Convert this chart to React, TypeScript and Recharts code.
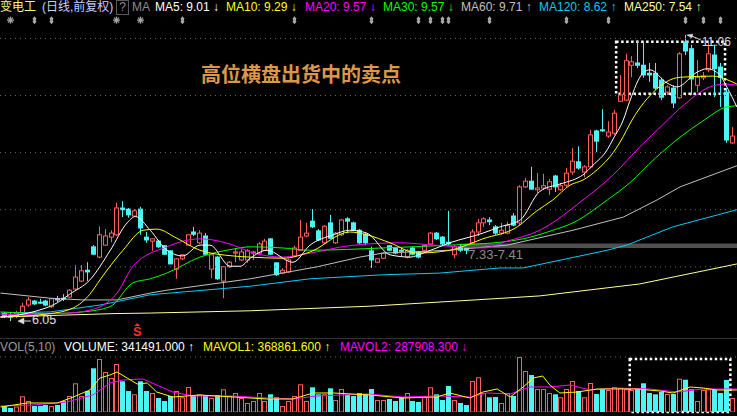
import React from 'react';
import {
  ComposedChart,
  Bar,
  Line,
  XAxis,
  YAxis,
  ReferenceLine,
  ReferenceArea,
  ReferenceDot,
} from 'recharts';

// ---------- candle data (124 daily candles) ----------
const OPEN = [
  6.18, 6.14, 6.14, 6.19, 6.33, 6.40, 6.38, 6.40, 6.30, 6.44,
  6.45, 6.47, 6.61, 6.75, 6.94, 7.35, 7.17, 7.38, 7.52, 7.56,
  8.03, 8.01, 7.89, 8.01, 7.52, 7.45, 7.45, 7.37, 7.28, 6.96,
  7.14, 7.38, 7.61, 7.42, 7.54, 6.96, 7.17, 6.75, 7.00, 7.24,
  7.12, 7.12, 7.24, 7.24, 7.29, 7.49, 7.07, 6.89, 6.91, 7.19,
  7.29, 7.54, 7.80, 7.63, 7.42, 7.77, 7.42, 7.56, 7.84, 7.77,
  7.64, 7.57, 7.28, 7.08, 7.15, 7.37, 7.33, 7.29, 7.17, 7.33,
  7.26, 7.29, 7.40, 7.59, 7.52, 7.43, 7.21, 7.35, 7.33, 7.42,
  7.61, 7.77, 7.82, 7.70, 7.59, 7.59, 7.89, 7.77, 8.40, 8.50,
  8.35, 8.38, 8.36, 8.59, 8.35, 8.43, 8.66, 8.84, 8.66, 8.75,
  9.38, 9.40, 9.29, 9.34, 9.90, 9.92, 10.53, 10.57, 10.53, 10.39,
  10.39, 10.27, 10.06, 10.13, 9.96, 10.94, 10.82, 10.18, 10.31, 10.45,
  10.71, 10.50, 10.06, 9.17,
];
const CLOSE = [
  6.14, 6.12, 6.19, 6.31, 6.42, 6.35, 6.37, 6.33, 6.44, 6.42,
  6.44, 6.59, 6.82, 6.93, 6.91, 7.22, 7.56, 7.54, 7.59, 8.03,
  8.00, 7.91, 7.98, 7.68, 7.47, 7.49, 7.35, 7.22, 7.05, 7.14,
  7.21, 7.56, 7.57, 7.59, 7.22, 7.21, 6.79, 7.00, 7.08, 7.26,
  7.26, 7.28, 7.26, 7.40, 7.45, 7.22, 6.86, 6.94, 7.12, 7.33,
  7.52, 7.59, 7.70, 7.47, 7.71, 7.50, 7.59, 7.82, 7.80, 7.64,
  7.42, 7.42, 7.12, 7.14, 7.24, 7.29, 7.24, 7.28, 7.29, 7.22,
  7.17, 7.37, 7.59, 7.49, 7.40, 7.40, 7.35, 7.29, 7.29, 7.61,
  7.77, 7.84, 7.79, 7.59, 7.64, 7.73, 7.73, 8.40, 8.50, 8.36,
  8.38, 8.42, 8.49, 8.40, 8.42, 8.64, 8.85, 8.73, 8.75, 9.31,
  9.20, 9.38, 9.36, 9.69, 10.01, 10.61, 10.59, 10.53, 10.36, 10.36,
  10.13, 9.97, 10.15, 9.87, 10.73, 10.78, 10.29, 10.32, 10.34, 10.73,
  10.47, 10.32, 9.22, 9.29,
];
const HIGH = [
  6.21, 6.19, 6.23, 6.37, 6.47, 6.42, 6.44, 6.42, 6.45, 6.49,
  6.52, 6.61, 7.03, 7.03, 7.08, 7.38, 7.71, 7.66, 7.64, 8.12,
  8.15, 8.03, 8.01, 8.05, 7.61, 7.50, 7.47, 7.38, 7.29, 7.15,
  7.22, 7.57, 7.70, 7.64, 7.59, 7.22, 7.19, 7.01, 7.10, 7.33,
  7.31, 7.31, 7.28, 7.43, 7.49, 7.50, 7.08, 6.98, 7.14, 7.37,
  7.82, 7.77, 8.01, 7.66, 7.73, 7.91, 7.61, 7.84, 7.87, 7.79,
  7.66, 7.59, 7.35, 7.15, 7.26, 7.38, 7.35, 7.33, 7.31, 7.35,
  7.28, 7.38, 7.61, 7.61, 7.54, 7.98, 7.38, 7.40, 7.35, 7.66,
  7.84, 7.87, 7.87, 7.73, 7.77, 7.79, 7.94, 8.43, 8.56, 8.75,
  8.64, 8.63, 8.54, 8.61, 8.47, 8.73, 9.08, 9.11, 8.78, 9.40,
  9.40, 9.76, 9.55, 9.75, 10.36, 10.73, 10.69, 10.97, 10.94, 10.57,
  10.57, 10.31, 10.18, 10.18, 10.76, 11.06, 10.89, 10.62, 10.41, 10.92,
  10.89, 10.57, 10.13, 9.45,
];
const LOW = [
  6.10, 6.05, 6.10, 6.16, 6.30, 6.33, 6.35, 6.31, 6.28, 6.38,
  6.40, 6.45, 6.59, 6.73, 6.75, 7.21, 7.15, 7.37, 7.43, 7.54,
  7.87, 7.86, 7.87, 7.56, 7.42, 7.28, 7.33, 7.21, 7.05, 6.79,
  7.12, 7.37, 7.54, 7.40, 7.21, 6.80, 6.77, 6.45, 6.98, 7.08,
  7.10, 7.07, 7.12, 7.22, 7.28, 7.21, 6.84, 6.87, 6.89, 7.17,
  7.28, 7.52, 7.68, 7.45, 7.40, 7.49, 7.40, 7.54, 7.59, 7.63,
  7.40, 7.38, 6.98, 7.07, 7.14, 7.28, 7.22, 7.19, 7.15, 7.21,
  7.15, 7.28, 7.38, 7.47, 7.38, 7.37, 7.15, 7.26, 7.22, 7.40,
  7.54, 7.70, 7.73, 7.56, 7.56, 7.57, 7.71, 7.73, 8.38, 8.35,
  8.29, 8.35, 8.26, 8.31, 8.33, 8.40, 8.61, 8.70, 8.57, 8.73,
  9.01, 9.36, 9.26, 9.31, 9.89, 9.90, 10.32, 10.48, 10.31, 10.24,
  10.10, 9.92, 10.01, 9.78, 9.94, 10.71, 10.01, 10.06, 10.27, 10.41,
  9.97, 9.80, 9.17, 9.15,
];
const VOLUME = [
  64000, 42700, 58700, 167600, 117400, 64000, 64000, 74700, 64000, 74700,
  117400, 170800, 306300, 170800, 224100, 466400, 565600, 426900, 362800, 512300,
  327600, 224100, 188900, 327600, 224100, 202800, 149400, 117400, 170800, 224100,
  156900, 266800, 170800, 188900, 181400, 149400, 181400, 242300, 170800, 202800,
  149400, 96000, 117400, 202800, 117400, 188900, 156900, 64000, 117400, 170800,
  295600, 117400, 263600, 188900, 188900, 252900, 128100, 245500, 181400, 170800,
  202800, 188900, 245500, 128100, 128100, 138700, 117400, 156900, 202800, 117400,
  106700, 170800, 263600, 188900, 128100, 277500, 128100, 96000, 74700, 330800,
  370300, 202800, 156900, 160100, 96000, 202800, 170800, 587000, 437600, 394900,
  245500, 245500, 202800, 188900, 156900, 245500, 330800, 224100, 156900, 309500,
  192100, 245500, 234800, 266800, 256100, 242300, 234800, 242300, 306300, 202800,
  188900, 213400, 192100, 192100, 355400, 344700, 242300, 117400, 234800, 242300,
  234800, 202800, 341500, 149400,
];

// ---------- moving averages: [candle index, value] ----------
const MA5_PTS: [number, number][] = [
  [-0.6, 6.12], [4.9, 6.21], [9, 6.37], [11.1, 6.52], [14.5, 6.77], [17.9, 7.28], [20.8, 7.77],
  [22.2, 7.88], [24.7, 7.64], [27.5, 7.29], [30.2, 7.19], [33.1, 7.38], [34.8, 7.38], [38.2, 7.01],
  [39.9, 7.01], [41.6, 7.15], [44.4, 7.29], [48.8, 7.08], [51.7, 7.38], [55.6, 7.56], [58.4, 7.64],
  [61.3, 7.59], [65.2, 7.21], [68.6, 7.17], [70.8, 7.24], [75.3, 7.42], [80.9, 7.59], [83.8, 7.70],
  [87.2, 7.82], [90.5, 8.32], [93.9, 8.45], [96.1, 8.52], [97.8, 8.61], [99.5, 8.78], [101.9, 9.05],
  [102.9, 9.24], [104.6, 9.57], [105.7, 9.90], [107.9, 10.39], [109.1, 10.45], [112, 10.22],
  [113.7, 10.15], [117.1, 10.41], [118.8, 10.47], [120.9, 10.36], [122.1, 10.15], [123.8, 9.8],
];
const MA10_PTS: [number, number][] = [
  [-0.6, 6.12], [7.8, 6.18], [11.7, 6.28], [14.5, 6.52], [16.2, 6.77], [20.1, 7.29], [23.5, 7.64],
  [25.8, 7.66], [29.2, 7.50], [33.1, 7.29], [38.7, 7.19], [41.6, 7.17], [47.1, 7.15], [51.7, 7.26],
  [58.4, 7.61], [61.3, 7.56], [65.2, 7.42], [69.8, 7.24], [75.3, 7.29], [80.9, 7.49], [86.7, 7.70],
  [90, 7.98], [92.7, 8.17], [95.6, 8.43], [97.8, 8.52], [100.2, 8.70], [102.9, 9.00], [104.6, 9.28],
  [105.7, 9.50], [109.6, 10.05], [114.2, 10.32], [119.8, 10.34], [122.1, 10.28], [123.8, 10.2],
];
const MA20_PTS: [number, number][] = [
  [-0.6, 6.16], [10.6, 6.19], [14.5, 6.24], [19.1, 6.54], [21.8, 7.01], [27.5, 7.35], [33.1, 7.49],
  [38.7, 7.38], [41.6, 7.26], [47.1, 7.17], [51.7, 7.24], [58.4, 7.37], [66.9, 7.42], [72.5, 7.38],
  [80.9, 7.33], [85, 7.45], [90.5, 7.64], [97.8, 8.17], [103, 8.62], [107.4, 9.10], [111.3, 9.49],
  [115, 9.85], [119.8, 10.17], [122.1, 10.2], [123.8, 10.18],
];
const MA30_PTS: [number, number][] = [
  [-0.6, 6.21], [7.8, 6.18], [13.3, 6.21], [17.9, 6.30], [21.8, 6.72], [24.7, 6.79], [27.5, 6.89],
  [33.1, 7.17], [38.7, 7.31], [41.6, 7.35], [47.1, 7.33], [51.7, 7.29], [64, 7.33], [75.3, 7.38],
  [83.8, 7.43], [87.7, 7.49], [92.7, 7.64], [96.1, 7.77], [101.9, 8.17], [105.7, 8.47], [110, 8.90],
  [114.2, 9.27], [118, 9.55], [122.1, 9.80], [123.8, 9.82],
];
const MA60_PTS: [number, number][] = [
  [-0.6, 6.54], [7.8, 6.45], [13.3, 6.42], [19.1, 6.42], [24.7, 6.54], [27.5, 6.59], [41.6, 6.79],
  [52.9, 7.00], [60.1, 7.17], [64, 7.24], [75.3, 7.29], [85, 7.38], [96.1, 7.64], [104.6, 7.87],
  [110.3, 8.17], [114.2, 8.40], [123.8, 8.77],
];
const MA120_PTS: [number, number][] = [
  [-0.6, 6.19], [7.8, 6.21], [16.2, 6.33], [24.7, 6.51], [41.6, 6.66], [51.7, 6.79], [64, 6.86],
  [73.6, 6.89], [83.8, 6.98], [87.7, 6.98], [101.9, 7.29], [105.2, 7.38], [113, 7.70], [123.8, 8.00],
];
const MA250_PTS: [number, number][] = [
  [-0.6, 6.12], [18.4, 6.18], [24.7, 6.19], [41.6, 6.23], [61.8, 6.31], [79.6, 6.42], [90.5, 6.49],
  [107.4, 6.70], [123.8, 7.05],
];
const MAVOL1_PTS: [number, number][] = [
  [-0.6, 53400], [3.9, 96000], [9, 96000], [11.7, 160100], [14.5, 234800], [16.2, 362800],
  [17.9, 394900], [19.1, 426900], [20.8, 362800], [22.5, 298800], [24.2, 309500], [25.8, 213400],
  [28.5, 160100], [33.1, 181400], [38.7, 160100], [44.4, 138700], [48.8, 138700], [52.2, 202800],
  [55.6, 202800], [61.8, 181400], [67.4, 149400], [73.1, 160100], [75.3, 202800], [78.7, 149400],
  [80.9, 213400], [83.3, 245500], [85.5, 160100], [87.7, 266800], [89.4, 362800], [91, 384200],
  [92.2, 288100], [93.9, 202800], [96.8, 213400], [100.2, 245500], [103.5, 245500], [106.9, 245500],
  [110.8, 224100], [113, 202800], [115.9, 266800], [118.1, 256100], [120.4, 234800], [123.8, 234800],
];
const MAVOL2_PTS: [number, number][] = [
  [-0.6, 64000], [4.9, 74700], [10.6, 106700], [15, 181400], [17.9, 309500], [20.1, 341500],
  [23.5, 352200], [25.8, 288100], [28.5, 213400], [31.9, 170800], [38.7, 170800], [44.4, 149400],
  [48.8, 138700], [52.9, 170800], [61.3, 192100], [67.4, 160100], [73.1, 170800], [78.7, 160100],
  [81.6, 202800], [85.5, 192100], [88.9, 266800], [92.2, 266800], [95.6, 288100], [99, 234800],
  [103.5, 256100], [109.1, 245500], [113.7, 213400], [118.1, 245500], [123.8, 245500],
];

// ---------- annotations ----------
const MARKER_IDX = [1, 5, 8, 19, 23, 30, 49, 62, 70, 72, 74, 75, 82, 95, 102, 115, 118, 121];
const MARKER_STAR = [1, 19, 23];
const MARKER_LEVEL = 11.32;
const SELL_IDX = [22.5];
const SELL_LEVEL = 5.876;
const HIGH_MARK = { i: 115, v: 11.06 };
const LOW_MARK = { i: 1, v: 6.05 };
const BAND = { from: 77, to: 123.82, low: 7.33, high: 7.41, labelAt: 78.4 };
const PRICE_BOX = { x1: 103.4, x2: 121.8, y1: 10.03, y2: 10.94 };
const VOL_BOX = { x1: 105.7, x2: 122.7, y1: 0, y2: 565000 };
const PRICE_GRID = [7, 8, 9, 10, 11];
const VOL_GRID = [587000];

const X_DOMAIN: [number, number] = [-0.68, 123.82];
const PRICE_DOMAIN: [number, number] = [5.753, 11.673];
const VOL_DOMAIN: [number, number] = [0, 747000];

const RED = '#FF5C5C';
const CYAN = '#4CF4F4';

const ROWS = OPEN.map((o, i) => ({
  i,
  open: o,
  close: CLOSE[i],
  high: HIGH[i],
  low: LOW[i],
  range: [LOW[i], HIGH[i]],
  vol: VOLUME[i],
}));
const pts = (a: [number, number][]) => a.map(([i, v]) => ({ i, v }));

const Candle = (props: any) => {
  const { x, y, width, height, payload } = props;
  if (x == null || !payload) return null;
  const { open, close, high, low } = payload;
  const top = Math.min(y, y + height);
  const h = Math.abs(height);
  const k = high > low ? h / (high - low) : 0;
  const yO = top + (high - open) * k;
  const yC = top + (high - close) * k;
  const cx = Math.round(x + width / 2) + 0.5;
  const up = close >= open;
  const color = up ? RED : CYAN;
  const bTop = Math.min(yO, yC);
  const bH = Math.max(Math.abs(yO - yC), 1);
  return (
    <g>
      <line x1={cx} x2={cx} y1={top} y2={top + Math.max(h, 1)} stroke={color} strokeWidth={1} />
      {up ? (
        <rect x={cx - 2} y={bTop} width={4} height={bH} fill="#000" stroke={color} strokeWidth={1} />
      ) : (
        <rect x={cx - 2.5} y={bTop - 0.5} width={5} height={bH + 1} fill={color} />
      )}
    </g>
  );
};

const VolBar = (props: any) => {
  const { x, y, width, height, payload } = props;
  if (x == null || !payload) return null;
  const cx = Math.round(x + width / 2);
  const up = payload.close >= payload.open;
  if (up) {
    return <rect x={cx - 1.5} y={y + 0.5} width={4} height={Math.max(height - 0.5, 0)} fill="#000" stroke={RED} strokeWidth={1} />;
  }
  return <rect x={cx - 2} y={y} width={5} height={height} fill={CYAN} />;
};

const markerShape = (star: boolean) => (p: any) => {
  const cx = Math.round(p.cx) + 0.5;
  const cy = p.cy;
  if (star) {
    return (
      <g stroke="#A8A8A8" strokeWidth={1.3}>
        <line x1={cx - 3.5} y1={cy} x2={cx + 3.5} y2={cy} />
        <line x1={cx} y1={cy - 3.5} x2={cx} y2={cy + 3.5} />
        <line x1={cx - 2.5} y1={cy - 2.5} x2={cx + 2.5} y2={cy + 2.5} />
        <line x1={cx - 2.5} y1={cy + 2.5} x2={cx + 2.5} y2={cy - 2.5} />
      </g>
    );
  }
  return (
    <polygon
      points={`${cx},${cy - 4} ${cx + 2},${cy - 1.5} ${cx + 1.2},${cy} ${cx + 2},${cy + 1.5} ${cx},${cy + 4} ${cx - 2},${cy + 1.5} ${cx - 1.2},${cy} ${cx - 2},${cy - 1.5}`}
      fill="#A8A8A8"
    />
  );
};

const sellShape = (p: any) => (
  <g>
    <polygon points={`${p.cx - 3},${p.cy - 5} ${p.cx},${p.cy - 8} ${p.cx + 3},${p.cy - 5}`} fill="#FF2A2A" />
    <text x={p.cx} y={p.cy + 5} textAnchor="middle" fontSize={13} fontWeight="bold" fill="#FF2A2A" fontFamily="'Liberation Sans', Arial, sans-serif">
      S
    </text>
  </g>
);

const highShape = (p: any) => (
  <g fill="#D8D8D8" stroke="#D8D8D8">
    <polygon points={`${p.cx + 2},${p.cy} ${p.cx + 8},${p.cy - 1} ${p.cx + 7},${p.cy + 3}`} strokeWidth={0.5} />
    <line x1={p.cx + 7} y1={p.cy + 1} x2={p.cx + 16} y2={p.cy + 5} strokeWidth={1} />
    <text x={p.cx + 17} y={p.cy + 11} fontSize={12} stroke="none" fontFamily="'Liberation Sans', Arial, sans-serif">
      {HIGH_MARK.v.toFixed(2)}
    </text>
  </g>
);

const lowShape = (p: any) => (
  <g fill="#E0E0E0" stroke="#E0E0E0">
    <polygon points={`${p.cx + 8},${p.cy} ${p.cx + 14},${p.cy - 3} ${p.cx + 14},${p.cy + 3}`} strokeWidth={0.5} />
    <line x1={p.cx + 14} y1={p.cy} x2={p.cx + 21} y2={p.cy} strokeWidth={1} />
    <text x={p.cx + 22} y={p.cy + 3} fontSize={12.5} stroke="none" fontFamily="'Liberation Sans', Arial, sans-serif">
      {LOW_MARK.v.toFixed(2)}
    </text>
  </g>
);

const bandLabelShape = (p: any) => (
  <text x={p.cx} y={p.cy + 11} fontSize={13} fill="#8C8C8C" fontFamily="'Liberation Sans', Arial, sans-serif">
    {`${BAND.low.toFixed(2)}-${BAND.high.toFixed(2)}`}
  </text>
);

const HEADER = [
  { t: '变电工', x: 0, c: '#F8F27E' },
  { t: '(日线,前复权)', x: 42, c: '#C8D0FF' },
  { t: 'MA', x: 132, c: '#8C8C8C' },
  { t: 'MA5: 9.01 ↓', x: 155, c: '#FFFFFF' },
  { t: 'MA10: 9.29 ↓', x: 226, c: '#FFFF00' },
  { t: 'MA20: 9.57 ↓', x: 305, c: '#FF00FF' },
  { t: 'MA30: 9.57 ↓', x: 383, c: '#00FF00' },
  { t: 'MA60: 9.71 ↑', x: 461, c: '#C0C0C0' },
  { t: 'MA120: 8.62 ↑', x: 539, c: '#10C8F0' },
  { t: 'MA250: 7.54 ↑', x: 624, c: '#FFFF99' },
];
const VOL_HEADER = [
  { t: 'VOL(5,10)', x: 0, c: '#9A9A9A' },
  { t: 'VOLUME: 341491.000 ↑', x: 64, c: '#FFFFFF' },
  { t: 'MAVOL1: 368861.600 ↑', x: 203, c: '#FFFF00' },
  { t: 'MAVOL2: 287908.300 ↓', x: 340, c: '#FF00FF' },
];

const FONT = "'Liberation Sans', Arial, 'Noto Sans CJK SC', sans-serif";

export default function App() {
  const textStyle = (x: number, top: number, c: string): React.CSSProperties => ({
    position: 'absolute',
    left: x,
    top,
    color: c,
    fontSize: 12,
    lineHeight: '14px',
    whiteSpace: 'nowrap',
    fontFamily: FONT,
  });
  return (
    <div
      style={{
        position: 'absolute',
        left: 0,
        top: 0,
        width: 737,
        height: 416,
        background: '#000',
        overflow: 'hidden',
        fontFamily: FONT,
      }}
    >
      <style>{'body{margin:0;background:#000;}'}</style>
      <div style={{ position: 'absolute', left: 0, top: 0 }}>
        <ComposedChart width={737} height={338} data={ROWS} margin={{ top: 0, right: 0, bottom: 0, left: 0 }}>
          <XAxis dataKey="i" type="number" domain={X_DOMAIN} allowDataOverflow hide />
          <YAxis type="number" domain={PRICE_DOMAIN} allowDataOverflow hide />
          {PRICE_GRID.map((g) => (
            <ReferenceLine key={g} y={g} stroke="#666" strokeDasharray="1 4" ifOverflow="visible" />
          ))}
          <ReferenceArea
            x1={BAND.from}
            x2={BAND.to}
            y1={BAND.low}
            y2={BAND.high}
            fill="#505050"
            fillOpacity={1}
            stroke="none"
            ifOverflow="visible"
          />
          <Line data={pts(MA250_PTS)} dataKey="v" stroke="#FFFF99" dot={false} strokeWidth={1} isAnimationActive={false} />
          <Line data={pts(MA120_PTS)} dataKey="v" stroke="#10C8F0" dot={false} strokeWidth={1} isAnimationActive={false} />
          <Line data={pts(MA60_PTS)} dataKey="v" stroke="#C0C0C0" dot={false} strokeWidth={1} isAnimationActive={false} />
          <Bar dataKey="range" barSize={5} shape={Candle} isAnimationActive={false} />
          <Line data={pts(MA30_PTS)} dataKey="v" type="monotone" stroke="#00FF00" dot={false} strokeWidth={1} isAnimationActive={false} />
          <Line data={pts(MA20_PTS)} dataKey="v" type="monotone" stroke="#FF00FF" dot={false} strokeWidth={1} isAnimationActive={false} />
          <Line data={pts(MA10_PTS)} dataKey="v" type="monotone" stroke="#FFFF00" dot={false} strokeWidth={1} isAnimationActive={false} />
          <Line data={pts(MA5_PTS)} dataKey="v" type="monotone" stroke="#FFFFFF" dot={false} strokeWidth={1} isAnimationActive={false} />
          <ReferenceArea
            x1={PRICE_BOX.x1}
            x2={PRICE_BOX.x2}
            y1={PRICE_BOX.y1}
            y2={PRICE_BOX.y2}
            fill="none"
            fillOpacity={0}
            stroke="#FFFFFF"
            strokeWidth={2.5}
            strokeDasharray="2.5 2.5"
            ifOverflow="visible"
          />
          {MARKER_IDX.map((m) => (
            <ReferenceDot key={'m' + m} x={m} y={MARKER_LEVEL} r={3} shape={markerShape(MARKER_STAR.includes(m))} ifOverflow="visible" />
          ))}
          {SELL_IDX.map((s) => (
            <ReferenceDot key={'s' + s} x={s} y={SELL_LEVEL} r={3} shape={sellShape} ifOverflow="visible" />
          ))}
          <ReferenceDot x={HIGH_MARK.i} y={HIGH_MARK.v} r={3} shape={highShape} ifOverflow="visible" />
          <ReferenceDot x={LOW_MARK.i} y={LOW_MARK.v} r={3} shape={lowShape} ifOverflow="visible" />
          <ReferenceDot x={BAND.labelAt} y={BAND.low} r={3} shape={bandLabelShape} ifOverflow="visible" />
        </ComposedChart>
      </div>

      {HEADER.map((h) => (
        <div key={h.t} style={textStyle(h.x, 0, h.c)}>
          {h.t}
        </div>
      ))}
      <div
        style={{
          position: 'absolute',
          left: 116,
          top: 0,
          width: 11,
          height: 13,
          border: '1px solid #5a5a5a',
          color: '#8C8C8C',
          fontSize: 12,
          lineHeight: '13px',
          textAlign: 'center',
          fontFamily: FONT,
        }}
      >
        ?
      </div>
      <div
        style={{
          position: 'absolute',
          left: 201,
          top: 62,
          color: '#DC9848',
          fontSize: 20,
          lineHeight: '24px',
          fontWeight: 'bold',
          whiteSpace: 'nowrap',
          fontFamily: "'Noto Sans CJK SC', sans-serif",
        }}
      >
        高位横盘出货中的卖点
      </div>

      <div style={{ position: 'absolute', left: 0, top: 338, width: 737, height: 1, background: '#333' }} />

      {VOL_HEADER.map((h) => (
        <div key={h.t} style={textStyle(h.x, 340, h.c)}>
          {h.t}
        </div>
      ))}

      <div style={{ position: 'absolute', left: 0, top: 340 }}>
        <ComposedChart width={737} height={74} data={ROWS} margin={{ top: 2, right: 0, bottom: 2, left: 0 }}>
          <XAxis dataKey="i" type="number" domain={X_DOMAIN} allowDataOverflow hide />
          <YAxis type="number" domain={VOL_DOMAIN} allowDataOverflow hide />
          {VOL_GRID.map((g) => (
            <ReferenceLine key={g} y={g} stroke="#666" strokeDasharray="1 4" ifOverflow="visible" />
          ))}
          <Bar dataKey="vol" barSize={5} shape={VolBar} isAnimationActive={false} />
          <Line data={pts(MAVOL2_PTS)} dataKey="v" stroke="#FF00FF" dot={false} strokeWidth={1} isAnimationActive={false} />
          <Line data={pts(MAVOL1_PTS)} dataKey="v" stroke="#FFFF00" dot={false} strokeWidth={1} isAnimationActive={false} />
          <ReferenceArea
            x1={VOL_BOX.x1}
            x2={VOL_BOX.x2}
            y1={VOL_BOX.y1}
            y2={VOL_BOX.y2}
            fill="none"
            fillOpacity={0}
            stroke="#FFFFFF"
            strokeWidth={2.5}
            strokeDasharray="2.5 2.5"
            ifOverflow="visible"
          />
        </ComposedChart>
      </div>
    </div>
  );
}
